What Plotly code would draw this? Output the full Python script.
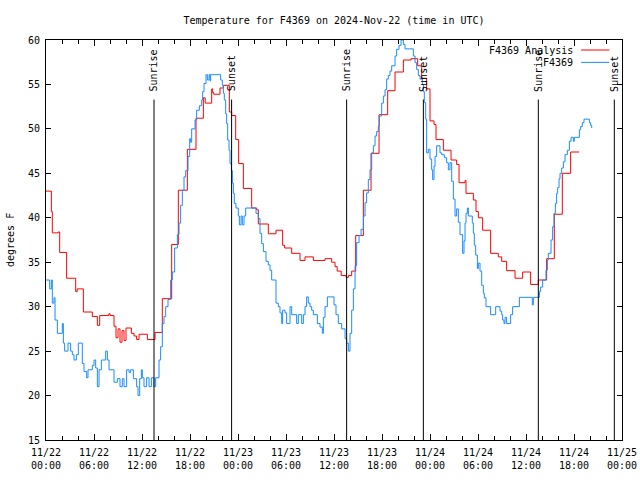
import pandas as pd
import plotly.graph_objects as go

# ---------------- data (hours after 2024-11-22 00:00 UTC, degrees F) ----------------
analysis_hours = [0.0, 0.67, 0.79, 1.5, 1.71, 2.58, 3.71, 3.9, 4.67, 5.79, 6.42, 6.71, 7.85, 8.0, 8.5, 8.75,
                  9.0, 9.25, 9.5, 9.75, 10.0, 10.67, 11.0, 11.33, 11.63, 12.67, 13.63, 14.54, 15.71, 16.54,
                  17.67, 18.75, 19.67, 19.9, 20.71, 20.83, 20.96, 21.75, 22.17, 22.92, 23.21, 23.71, 24.08,
                  24.67, 25.71, 26.33, 26.54, 27.79, 28.75, 29.58, 29.83, 30.71, 31.75, 32.38, 33.42, 34.88,
                  35.71, 36.13, 36.4, 36.9, 37.5, 37.8, 38.21, 38.71, 39.67, 40.63, 41.63, 42.71, 43.63,
                  44.67, 45.63, 46.46, 46.96, 47.58, 48.0, 48.5, 48.75, 49.67, 50.63, 51.33, 51.63, 52.38,
                  52.5, 53.42, 53.75, 54.04, 54.58, 55.58, 56.54, 56.96, 57.58, 58.63, 59.58, 60.58, 61.54,
                  62.58, 63.54, 64.54, 65.58, 66.63]
analysis_temp = [43.0, 40.7, 38.3, 38.4, 36.1, 33.2, 31.7, 32.0, 29.4, 28.9, 27.9, 29.0, 29.2, 29.0, 27.8, 26.5,
                 27.5, 26.0, 27.3, 26.2, 27.6, 27.0, 26.7, 26.3, 26.9, 26.3, 27.1, 30.9, 37.0, 43.1,
                 47.7, 51.2, 53.5, 52.9, 54.5, 54.1, 53.9, 54.6, 54.9, 51.9, 51.5, 48.8, 46.1,
                 43.3, 41.1, 40.9, 39.3, 38.2, 38.6, 36.9, 36.6, 36.0, 35.2, 35.6, 35.2, 35.4,
                 35.0, 34.5, 34.0, 33.5, 33.3, 33.5, 34.0, 38.0, 43.1, 47.25, 51.6, 54.3, 56.4,
                 57.75, 57.9, 57.1, 55.7, 54.5, 50.9, 50.5, 48.8, 47.6, 46.5, 46.0, 43.95, 44.2,
                 42.75, 42.0, 40.7, 40.0, 38.6, 36.0, 35.6, 35.1, 34.05, 33.2, 33.9, 32.5, 33.0,
                 35.4, 40.4, 45.0, 47.4, 47.4]

obs_hours = [0.0, 0.46, 0.67, 0.79, 1.0, 1.13, 1.42, 2.04, 2.17, 2.33, 2.75, 3.08, 3.29, 3.5, 3.79, 4.04,
             4.54, 4.75, 5.08, 5.25, 5.79, 6.0, 6.21, 6.42, 6.63, 6.92, 7.46, 7.67, 7.88, 8.5, 8.92, 9.25,
             9.54, 9.75, 10.08, 10.38, 10.58, 10.92, 11.33, 11.5, 11.71, 11.92, 12.04, 12.25, 12.58, 12.88,
             13.17, 13.5, 13.71, 14.13, 14.33, 14.54, 14.75, 14.96, 15.25, 15.58, 15.79, 16.08, 16.42,
             16.63, 16.83, 17.04, 17.25, 17.46, 17.75, 17.96, 18.08, 18.21, 18.63, 18.83, 19.17, 19.46,
             19.58, 19.75, 20.0, 20.17, 20.38, 20.5, 20.58, 21.83, 22.04, 22.17, 22.29, 22.46, 22.58,
             22.71, 22.88, 23.0, 23.17, 23.29, 23.42, 23.54, 23.75, 24.04, 24.17, 24.38, 24.54, 24.75,
             24.96, 26.25, 26.54, 26.75, 26.96, 27.17, 27.5, 27.79, 28.0, 28.21, 28.75, 29.04, 29.25,
             29.46, 29.58, 29.88, 30.08, 30.5, 30.71, 31.33, 31.54, 31.96, 32.17, 32.38, 32.58, 32.79,
             33.0, 33.21, 33.42, 33.92, 34.25, 34.54, 34.67, 34.88, 35.17, 36.0, 36.25, 36.54, 36.96,
             37.38, 37.58, 37.79, 38.0, 38.21, 38.42, 38.63, 38.83, 39.13, 39.38, 39.67, 39.88, 40.08,
             40.29, 40.5, 40.71, 40.92, 41.13, 41.33, 41.54, 41.67, 41.96, 42.17, 42.38, 42.58, 42.79,
             43.0, 43.21, 43.63, 43.83, 44.13, 44.38, 44.67, 44.88, 45.92, 46.13, 46.33, 46.54, 46.75,
             47.04, 47.17, 47.29, 47.46, 47.58, 47.79, 48.0, 48.21, 48.33, 48.5, 48.63, 48.83, 49.25,
             49.46, 49.79, 50.08, 50.29, 50.5, 50.71, 50.92, 51.13, 51.33, 51.54, 51.75, 52.08, 52.25,
             52.38, 52.5, 52.67, 52.79, 53.29, 53.42, 53.54, 53.71, 53.92, 54.04, 54.25, 54.46, 54.67,
             54.79, 55.0, 55.58, 56.21, 56.75, 56.96, 57.08, 57.25, 57.38, 57.58, 58.08, 58.33, 59.17,
             60.79, 60.92, 61.67, 61.83, 62.08, 62.5, 62.67, 62.79, 63.13, 63.33, 63.5, 63.67, 63.83,
             63.96, 64.13, 64.25, 64.46, 64.67, 64.88, 65.17, 65.42, 65.63, 65.92, 66.04, 66.67, 66.83,
             67.04, 67.25, 67.92, 68.08, 68.21]
obs_temp = [33.0, 32.0, 33.0, 30.4, 31.0, 28.5, 27.0, 28.1, 25.9, 25.0, 25.9, 25.0, 24.6, 24.0, 24.6, 25.9,
            23.6, 22.7, 22.0, 22.9, 23.4, 24.0, 23.1, 21.0, 22.9, 24.0, 25.0, 24.0, 22.9, 21.5, 21.9, 21.0,
            21.9, 21.0, 22.9, 22.6, 22.9, 21.9, 21.0, 20.0, 21.9, 22.9, 22.0, 21.0, 22.0, 21.0,
            22.0, 21.0, 22.0, 24.0, 25.5, 28.1, 28.9, 30.0, 30.8, 33.0, 33.9, 36.6, 38.1,
            39.4, 41.4, 43.1, 44.6, 45.3, 46.9, 48.9, 48.5, 50.0, 51.0, 52.1, 52.6, 53.25,
            54.2, 55.1, 56.1, 55.5, 56.1, 55.4, 56.1, 55.5, 54.9, 54.0, 53.25, 51.7, 50.6,
            48.75, 47.6, 46.1, 45.3, 43.9, 42.75, 41.6, 41.1, 40.2, 39.2, 40.2, 39.2, 40.2,
            41.1, 40.5, 39.9, 38.25, 37.1, 36.2, 35.1, 34.7, 34.1, 33.0, 30.4, 30.0, 29.3,
            28.1, 29.6, 29.3, 28.1, 30.0, 29.1, 28.1, 29.1, 28.1, 29.1, 30.0, 31.1, 30.4,
            30.0, 29.6, 29.1, 28.1, 27.7, 27.0, 28.8, 30.0, 31.1, 30.2, 29.1, 28.1, 27.5,
            26.4, 25.9, 25.0, 27.0, 29.6, 32.0, 34.6, 37.2, 38.0, 38.7, 40.2, 41.7, 42.8,
            44.3, 45.4, 47.3, 48.1, 49.2, 49.7, 50.3, 51.45, 52.9, 53.7, 54.4, 55.6, 56.0,
            56.5, 57.1, 58.2, 58.95, 59.4, 60.0, 59.5, 59.0, 58.2, 57.45, 56.7, 56.0, 55.6,
            55.0, 54.2, 52.95, 51.1, 47.3, 47.7, 46.6, 45.4, 44.3, 45.8, 46.9, 48.1, 47.3,
            47.1, 46.75, 46.2, 45.4, 46.2, 44.1, 42.1, 40.2, 41.0, 39.5, 38.1, 36.0, 37.4,
            39.4, 40.5, 41.1, 40.2, 39.4, 38.25, 36.9, 35.8, 34.3, 34.9, 34.0, 32.4, 31.5,
            31.0, 30.0, 29.1, 30.0, 29.5, 29.1, 28.5, 28.1, 28.8, 28.1, 29.1, 30.0, 31.05,
            30.2, 31.05, 31.7, 32.2, 33.0, 34.1, 35.25, 36.0, 37.5, 39.0, 40.5, 41.6, 42.75,
            43.4, 44.4, 45.0, 45.6, 46.3, 47.1, 47.6, 48.6, 49.05, 48.6, 49.05, 49.9, 50.25,
            50.7, 51.1, 50.7, 50.4, 50.1]

sun_event_hours = [13.5, 23.2, 37.58, 47.17, 61.54, 71.04]
sun_event_labels = ["Sunrise", "Sunset", "Sunrise", "Sunset", "Sunrise", "Sunset"]
sun_line_top = 53.3

tick_hours = list(range(0, 73, 6))
tick_labels = ["11/22<br>00:00", "11/22<br>06:00", "11/22<br>12:00", "11/22<br>18:00",
               "11/23<br>00:00", "11/23<br>06:00", "11/23<br>12:00", "11/23<br>18:00",
               "11/24<br>00:00", "11/24<br>06:00", "11/24<br>12:00", "11/24<br>18:00",
               "11/25<br>00:00"]
y_ticks = [15, 20, 25, 30, 35, 40, 45, 50, 55, 60]

legend_names = ["F4369 Analysis", "F4369"]
RED = "#ff0000"
BLUE = "#1a8cff"

base = pd.Timestamp("2024-11-22 00:00")
def to_time(hours):
    return [base + pd.Timedelta(hours=h) for h in hours]

FONT = "DejaVu Sans Mono"

fig = go.Figure()
fig.add_trace(go.Scatter(x=to_time(analysis_hours), y=analysis_temp, mode="lines",
                         line=dict(color=RED, width=1, shape="hv"), name=legend_names[0],
                         showlegend=False))
fig.add_trace(go.Scatter(x=to_time(obs_hours), y=obs_temp, mode="lines",
                         line=dict(color=BLUE, width=1, shape="hv"), name=legend_names[1],
                         showlegend=False))

for h, lab in zip(sun_event_hours, sun_event_labels):
    t = base + pd.Timedelta(hours=h)
    fig.add_shape(type="line", xref="x", yref="y", x0=t, x1=t, y0=15, y1=sun_line_top,
                  line=dict(color="black", width=1))
    fig.add_annotation(x=t, y=sun_line_top, xref="x", yref="y", text=lab, showarrow=False,
                       textangle=-90, xanchor="center", yanchor="bottom", yshift=6,
                       font=dict(family=FONT, size=10, color="black"))

# legend drawn gnuplot-style (text left, sample right)
legend_y = [0.975, 0.944]
for name, col, ly in zip(legend_names, [RED, BLUE], legend_y):
    fig.add_annotation(x=0.9185, y=ly, xref="paper", yref="paper", text=name, showarrow=False,
                       xanchor="right", yanchor="middle", font=dict(family=FONT, size=10, color="black"))
    fig.add_shape(type="line", xref="paper", yref="paper", x0=0.929, x1=0.978, y0=ly, y1=ly,
                  line=dict(color=col, width=1))

fig.add_annotation(x=-0.0625, y=0.5, xref="paper", yref="paper", text="degrees F", showarrow=False,
                   textangle=-90, xanchor="center", yanchor="middle",
                   font=dict(family=FONT, size=10, color="black"))

fig.update_layout(
    width=640, height=480, autosize=False,
    margin=dict(l=46, r=18, t=40, b=40, autoexpand=False),
    paper_bgcolor="white", plot_bgcolor="white",
    title=dict(text="Temperature for F4369 on 2024-Nov-22 (time in UTC)", x=0.5, xref="paper",
               y=1 - 20 / 480, yanchor="middle", font=dict(family=FONT, size=10, color="black")),
    font=dict(family=FONT, size=10, color="black"),
    showlegend=False,
)
fig.update_xaxes(
    type="date", range=[base, base + pd.Timedelta(hours=72)], automargin=False,
    tickvals=to_time(tick_hours), ticktext=tick_labels, ticklabelstandoff=3,
    ticks="inside", ticklen=6, tickcolor="black", tickwidth=1,
    minor=dict(dtick=2 * 3600 * 1000, ticks="inside", ticklen=4, tickcolor="black", showgrid=False),
    showline=True, linecolor="black", linewidth=1, mirror="ticks",
    showgrid=False, zeroline=False,
    tickfont=dict(family=FONT, size=10, color="black"),
)
fig.update_yaxes(
    range=[15, 60], tickvals=y_ticks, automargin=False, ticklabelstandoff=3,
    ticks="inside", ticklen=5, tickcolor="black", tickwidth=1,
    showline=True, linecolor="black", linewidth=1, mirror="ticks",
    showgrid=False, zeroline=False,
    tickfont=dict(family=FONT, size=10, color="black"),
)

fig.write_html("out.html", config={"displayModeBar": False},
               post_script="document.body.style.margin='0';")
